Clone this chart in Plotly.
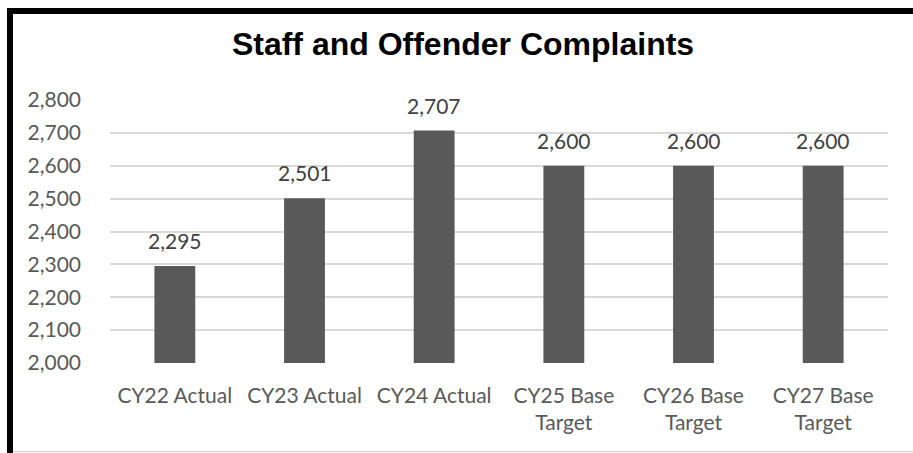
import plotly.graph_objects as go

categories = ["CY22 Actual", "CY23 Actual", "CY24 Actual",
              "CY25 Base<br>Target", "CY26 Base<br>Target", "CY27 Base<br>Target"]
values = [2295, 2501, 2707, 2600, 2600, 2600]
labels = [f"{v:,}" for v in values]
y_ticks = list(range(2000, 2801, 100))

W, H = 913, 453
L, R, T, B = 110, 25, 100, 90
pw, ph = W - L - R, H - T - B

def px2x(px):
    return (px - L) / pw

def py2y(py):
    return (H - B - py) / ph

FONT = "Lato, 'Open Sans', sans-serif"

fig = go.Figure()
fig.add_trace(go.Bar(
    x=categories, y=values,
    marker=dict(color="#595959", line=dict(width=0)),
    width=0.315,
    hoverinfo="skip",
))

for c, v, t in zip(categories, values, labels):
    fig.add_annotation(x=c, y=v, text=t, showarrow=False, yanchor="bottom",
                       yshift=11, font=dict(family=FONT, size=21, color="#404040"))

# chart border
fig.add_shape(type="rect", xref="paper", yref="paper",
              x0=px2x(7), x1=px2x(920), y0=py2y(14), y1=py2y(8),
              fillcolor="black", line=dict(width=0), layer="above")
fig.add_shape(type="rect", xref="paper", yref="paper",
              x0=px2x(7), x1=px2x(13), y0=py2y(470), y1=py2y(8),
              fillcolor="black", line=dict(width=0), layer="above")
fig.add_shape(type="line", xref="paper", yref="paper",
              x0=px2x(13), x1=px2x(920), y0=py2y(451.5), y1=py2y(451.5),
              line=dict(color="#d0d0d0", width=1), layer="above")

fig.update_layout(
    width=W, height=H,
    margin=dict(l=L, r=R, t=T, b=B),
    paper_bgcolor="white", plot_bgcolor="white",
    showlegend=False,
    title=dict(text="<b>Staff and Offender Complaints</b>",
               x=463 / W, xanchor="center", xref="container",
               y=1 - 44 / H, yanchor="middle", yref="container",
               font=dict(family="'Liberation Sans', Arial, sans-serif", size=32, color="black")),
    xaxis=dict(showgrid=False, showline=False, ticks="",
               tickfont=dict(family=FONT, size=21, color="#595959"),
               tickangle=0, ticklabelstandoff=18),
    yaxis=dict(range=[2000, 2800], tickvals=y_ticks,
               ticktext=[f"{v:,}" for v in y_ticks],
               showgrid=True, gridcolor="#d9d9d9", gridwidth=2,
               zeroline=False, showline=False, ticks="",
               tickfont=dict(family=FONT, size=21, color="#595959"),
               ticklabelstandoff=28),
)

fig.write_html("out.html", config={"displayModeBar": False, "staticPlot": True},
               post_script="document.body.style.margin='0';document.body.style.overflow='hidden';")
